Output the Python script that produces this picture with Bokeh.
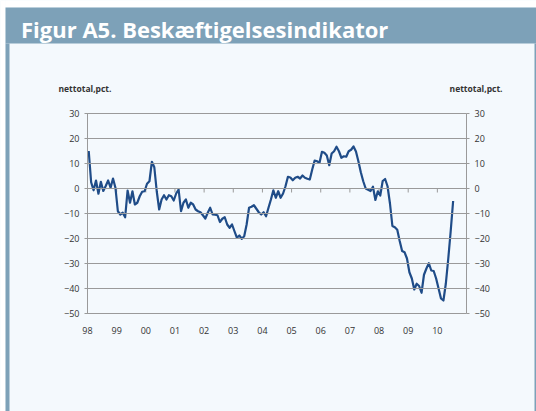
from bokeh.plotting import figure
from bokeh.models import Range1d, LinearAxis, FixedTicker, Label, BoxAnnotation
from bokeh.embed import file_html
from bokeh.resources import INLINE

# ---- data (monthly, Jan 1998 onwards), net total pct.
start_year = 1998
values = [
    15.0, 2.5, -0.7, 3.2, -2.1, 2.7, -1.0, 1.0, 3.2, 0.3, 4.0, 0.3,
    -9.1, -10.4, -9.7, -11.5, -0.8, -5.7, -1.1, -6.4, -5.7, -3.1, -1.3, -1.1,
    1.9, 2.9, 10.7, 8.5, -1.1, -8.4, -4.4, -2.7, -4.4, -2.7, -3.1, -4.8,
    -2.0, -0.4, -9.1, -5.7, -4.4, -7.7, -5.7, -6.4, -8.4, -9.1, -9.5, -10.7,
    -12.0, -9.7, -7.7, -10.4, -10.5, -10.7, -13.4, -12.1, -11.5, -14.4, -15.7, -14.4,
    -17.1, -19.7, -18.8, -20.1, -19.1, -14.4, -7.7, -7.3, -6.7, -8.1, -9.5, -10.4,
    -9.5, -11.1, -7.7, -4.4, -0.7, -3.7, -1.1, -3.7, -2.0, 0.9, 4.7, 4.4,
    3.3, 4.3, 4.7, 4.0, 5.2, 4.3, 3.9, 3.6, 7.6, 11.2, 10.9, 10.3,
    14.7, 14.3, 13.2, 9.3, 14.0, 14.9, 16.7, 14.9, 12.3, 12.9, 12.7, 14.9,
    15.5, 16.8, 14.8, 10.9, 6.5, 2.9, 0.0, -0.5, -1.0, 0.7, -4.6, -1.1,
    -2.8, 3.0, 3.8, 0.9, -6.0, -15.0, -15.5, -16.5, -21.0, -25.0, -25.5, -28.0,
    -33.5, -36.0, -40.4, -38.1, -39.0, -41.7, -34.5, -32.0, -29.9, -32.8, -33.0, -36.0,
    -40.0, -44.0, -44.8, -38.0, -28.0, -17.0, -5.0,
]
year_ticks = list(range(1998, 2012))
year_labels = ["98", "99", "00", "01", "02", "03", "04", "05", "06", "07", "08", "09", "10", ""]
y_ticks = [-50, -40, -30, -20, -10, 0, 10, 20, 30]
unit_label = "nettotal,pct."
title_text = "Figur A5. Beskæftigelsesindikator"

x = [start_year + (i + 0.5) / 12 for i in range(len(values))]

# ---- styling / layout constants (pixels)
W, H = 536, 411
PLOT_L, PLOT_R, PLOT_T, PLOT_B = 87, 466, 113, 313
X_START, X_END = year_ticks[0], year_ticks[-1]
Y_MIN, Y_MAX = y_ticks[0], y_ticks[-1]
XS = (PLOT_R - PLOT_L) / (X_END - X_START)
YS = (PLOT_B - PLOT_T) / (Y_MAX - Y_MIN)
X0 = X_START - PLOT_L / XS
Y_TOP = Y_MAX + PLOT_T / YS


def dx(px):
    return X0 + px / XS


def dy(py):
    return Y_TOP - py / YS


PANEL = "#f4f9fd"
FRAME_BLUE = "#7da1b8"
GRID = "#9a9a9a"
LINE = "#1f4c88"
TXT = "#333333"
FONT = "Open Sans"

p = figure(width=W, height=H, output_backend="svg", toolbar_location=None, title=None,
           x_range=Range1d(dx(0), dx(W)), y_range=Range1d(dy(H), dy(0)),
           x_axis_location=None, y_axis_location=None, min_border=0,
           border_fill_color=PANEL, background_fill_color=PANEL, outline_line_color=None)
p.grid.visible = False


def box(l, r, t, b, color):
    p.add_layout(BoxAnnotation(left=dx(l), right=dx(r), top=dy(t), bottom=dy(b),
                               fill_color=color, fill_alpha=1, line_color=None,
                               level="underlay"))


box(0, 5, 0, H, "white")
box(5, W, 0, 7, "white")
box(5, W, 7, 43, FRAME_BLUE)
box(5, 9, 43, H, FRAME_BLUE)
box(534, W, 43, H, FRAME_BLUE)

# ---- axes at fixed locations; the left axis' inward ticks form the gridlines
yl = LinearAxis(ticker=FixedTicker(ticks=y_ticks), fixed_location=X_START, bounds=(Y_MIN, Y_MAX))
yr = LinearAxis(ticker=FixedTicker(ticks=y_ticks), fixed_location=X_END, bounds=(Y_MIN, Y_MAX))
p.add_layout(yl, "left")
p.add_layout(yr, "right")
for ax in (yl, yr):
    ax.axis_line_color = GRID
    ax.axis_line_width = 1
    ax.major_tick_line_color = GRID
    ax.major_tick_line_width = 1
    ax.major_tick_out = 3
    ax.major_tick_in = 0
    ax.minor_tick_line_color = None
    ax.major_label_text_font = FONT
    ax.major_label_text_font_size = "9px"
    ax.major_label_text_color = TXT
    ax.major_label_standoff = 5
yl.major_tick_in = PLOT_R - PLOT_L

xa = LinearAxis(ticker=FixedTicker(ticks=year_ticks), fixed_location=Y_MIN, bounds=(X_START, X_END))
p.add_layout(xa, "below")
xa.major_label_overrides = {y: l for y, l in zip(year_ticks, year_labels)}
xa.axis_line_color = None
xa.major_tick_line_color = None
xa.minor_tick_line_color = None
xa.major_tick_out = 0
xa.major_tick_in = 0
xa.major_label_text_font = FONT
xa.major_label_text_font_size = "9px"
xa.major_label_text_color = TXT
xa.major_label_standoff = 13

# tick marks on the zero line
p.segment(x0=year_ticks, y0=[0] * len(year_ticks), x1=year_ticks, y1=[-1.6] * len(year_ticks),
          line_color=GRID, line_width=1)

p.line(x, values, line_color=LINE, line_width=2.2, line_join="round")

# ---- texts
p.add_layout(Label(x=dx(20.5), y=dy(28), text=title_text, text_font=FONT,
                   text_font_style="bold", text_font_size="22px",
                   text_color="white", text_baseline="middle", text_align="left"))
p.add_layout(Label(x=dx(58), y=dy(88), text=unit_label, text_font=FONT, text_font_style="bold",
                   text_font_size="8.5px", text_color=TXT, text_baseline="middle",
                   text_align="left"))
p.add_layout(Label(x=dx(502), y=dy(88), text=unit_label, text_font=FONT, text_font_style="bold",
                   text_font_size="8.5px", text_color=TXT, text_baseline="middle",
                   text_align="right"))

open("out.html", "w").write(file_html(p, INLINE))
